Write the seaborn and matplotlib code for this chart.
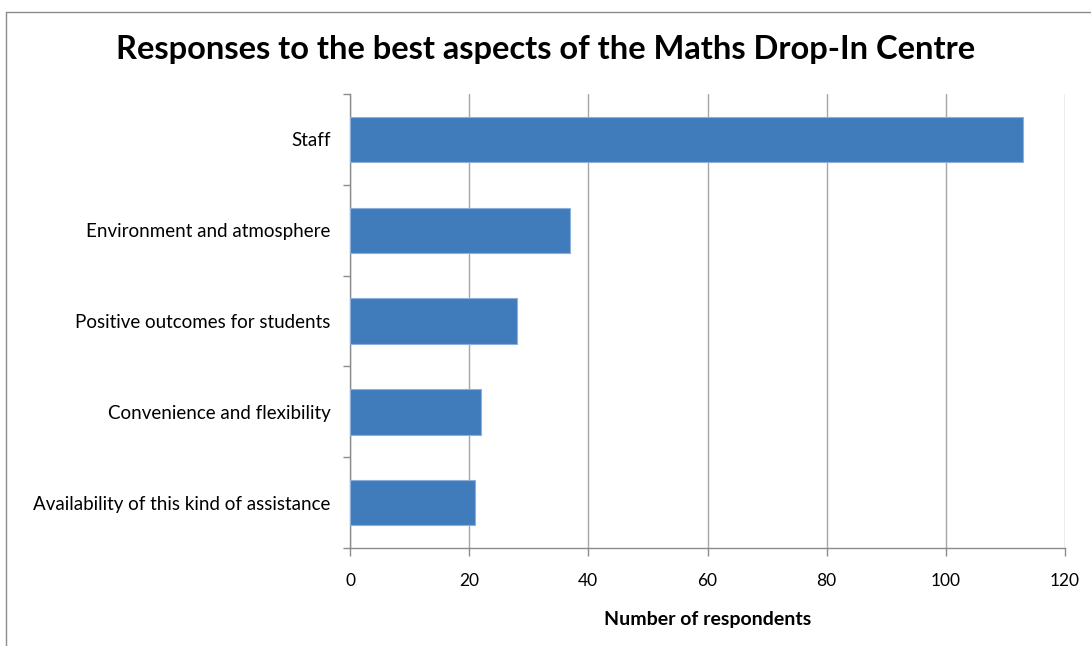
import matplotlib
matplotlib.use("Agg")
import matplotlib.pyplot as plt
from matplotlib.lines import Line2D
import seaborn as sns
import pandas as pd
import numpy as np

categories = ["Staff", "Environment and atmosphere", "Positive outcomes for students",
              "Convenience and flexibility", "Availability of this kind of assistance"]
values = [113, 37, 28, 22, 21]
x_ticks = [0, 20, 40, 60, 80, 100, 120]

sns.set_theme(style="white")
plt.rcParams['font.family'] = ['Lato', 'DejaVu Sans']
plt.rcParams['text.color'] = 'black'

df = pd.DataFrame({"category": categories, "value": values})

fig = plt.figure(figsize=(10.91, 6.46), dpi=100)
ax = fig.add_axes([350/1091, 1-548/646, (1065-350)/1091, (548-94)/646])

sns.barplot(data=df, x="value", y="category", orient="h", color="#407CBC",
            saturation=1, width=0.5, edgecolor="#8DB0DA", linewidth=0.8, ax=ax, zorder=3)

ax.set_xlim(0, 120)
ax.set_ylim(4.5, -0.5)
ax.set_xticks(x_ticks)
ax.set_xticklabels([str(t) for t in x_ticks], fontsize=12.5, color='black')
ax.tick_params(axis='x', which='major', direction='out', length=6, width=1,
               color='#8C8C8C', pad=12, bottom=True)
ax.tick_params(axis='y', which='major', length=0, pad=14, labelsize=13.5, labelcolor='black')
ax.set_yticks(np.arange(-0.5, 5, 1), minor=True)
ax.tick_params(axis='y', which='minor', direction='out', length=5, width=1,
               color='#8C8C8C', left=True)
ax.grid(axis='x', color='#A6A6A6', linewidth=1, zorder=0)
ax.set_axisbelow(True)
for s in ['top', 'right']:
    ax.spines[s].set_visible(False)
for s in ['left', 'bottom']:
    ax.spines[s].set_color('#8C8C8C')
    ax.spines[s].set_linewidth(1)
ax.set_ylabel("")
ax.set_xlabel("Number of respondents", fontsize=14, fontweight='bold', labelpad=16,
              color='black')

fig.text(0.5, 1-50/646, "Responses to the best aspects of the Maths Drop-In Centre",
         ha='center', va='center', fontsize=23.5, fontweight='bold', color='black')

# chart border
fig.add_artist(Line2D([6/1091, 6/1091], [0, 1-12/646], color='#8C8C8C', lw=1,
                      transform=fig.transFigure))
fig.add_artist(Line2D([6/1091, 1], [1-12/646, 1-12/646], color='#8C8C8C', lw=1,
                      transform=fig.transFigure))

fig.savefig("out.png", dpi=100)
